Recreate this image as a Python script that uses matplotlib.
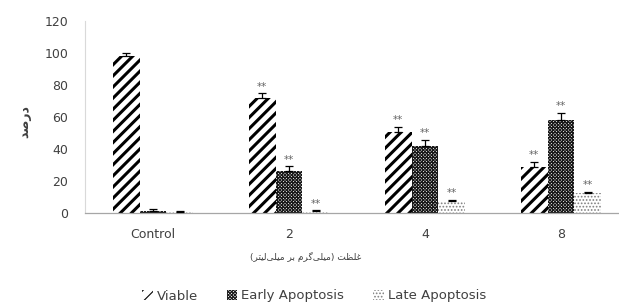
import matplotlib
matplotlib.use('Agg')
import matplotlib.pyplot as plt
import numpy as np

# Data
groups = ['Control', '2', '4', '8']
viable = [98, 72, 50.5, 28.5]
viable_err = [1.5, 2.5, 3.2, 3.5]
early = [1.0, 26, 42, 58]
early_err = [1.5, 3.0, 3.8, 4.5]
late = [0.5, 1.0, 7.5, 12.3]
late_err = [0.5, 0.6, 0.6, 1.0]
stars = [False, True, True, True]

ylabel_fa = 'درصد'
xlabel_fa = 'غلظت (میلی\u200cگرم بر میلی\u200cلیتر)'
legend_labels = ['Viable', 'Early Apoptosis', 'Late Apoptosis']

# Small Persian shaper (presentation forms, visual order) since matplotlib has no bidi
forms = {
    'د': ('\uFEA9', '\uFEAA', None, None),
    'ر': ('\uFEAD', '\uFEAE', None, None),
    'ص': ('\uFEB9', '\uFEBA', '\uFEBB', '\uFEBC'),
    'غ': ('\uFECD', '\uFECE', '\uFECF', '\uFED0'),
    'ل': ('\uFEDD', '\uFEDE', '\uFEDF', '\uFEE0'),
    'ظ': ('\uFEC5', '\uFEC6', '\uFEC7', '\uFEC8'),
    'ت': ('\uFE95', '\uFE96', '\uFE97', '\uFE98'),
    'م': ('\uFEE1', '\uFEE2', '\uFEE3', '\uFEE4'),
    'ی': ('\uFBFC', '\uFBFD', '\uFBFE', '\uFBFF'),
    'گ': ('\uFB92', '\uFB93', '\uFB94', '\uFB95'),
    'ب': ('\uFE8F', '\uFE90', '\uFE91', '\uFE92'),
}


def joins_next(c):
    return c in forms and forms[c][2] is not None


def shape(s):
    out = []
    for i, c in enumerate(s):
        if c not in forms:
            if c != '\u200c':
                out.append(c)
            continue
        prev = s[i - 1] if i > 0 else ''
        nxt = s[i + 1] if i + 1 < len(s) else ''
        p = joins_next(prev)
        n = nxt in forms and joins_next(c)
        iso, fin, ini, med = forms[c]
        if p and n:
            out.append(med)
        elif p:
            out.append(fin)
        elif n:
            out.append(ini)
        else:
            out.append(iso)
    vis = ''.join(out[::-1])
    return vis.translate(str.maketrans('()', ')('))


plt.rcParams['font.family'] = ['DejaVu Sans']
text_col = '#404040'

fig = plt.figure(figsize=(6.19, 3.04), dpi=100)
ax = fig.add_axes([85 / 619, 91 / 304, 534 / 619, 192.5 / 304])

x = np.arange(len(groups))
w = 0.197

series = [
    (viable, viable_err, -w, '///', 'black', 2.2),
    (early, early_err, 0, 'x' * 10, '#1a1a1a', 0.9),
    (late, late_err, w, '.....', '#808080', 0.8),
]
handles = []
for vals, err, off, hatch, hc, hlw in series:
    plt.rcParams['hatch.linewidth'] = hlw
    bars = ax.bar(x + off, vals, w, color='white', edgecolor=hc, hatch=hatch,
                  linewidth=0, zorder=2)
    for b in bars:
        if hasattr(b, 'set_hatch_linewidth'):
            b.set_hatch_linewidth(hlw)
    ax.errorbar(x + off, vals, yerr=[np.zeros(len(vals)), err], fmt='none',
                ecolor='black', elinewidth=0.9, capsize=3, capthick=0.9, zorder=3)
    for i in range(len(vals)):
        if stars[i]:
            ax.text(x[i] + off, vals[i] + err[i] + 1.2, '**', ha='center',
                    va='bottom', fontsize=7.5, color='#666666', zorder=4)
    handles.append(bars)

ax.set_xlim(-0.5, -0.5 + 534 / 136)
ax.set_ylim(0, 120)
ax.set_yticks(range(0, 121, 20))
ax.set_xticks(x)
ax.set_xticklabels(groups)
ax.tick_params(axis='both', length=0, labelsize=9, colors=text_col)
ax.tick_params(axis='y', pad=12)
ax.tick_params(axis='x', pad=11)
ax.spines['top'].set_visible(False)
ax.spines['right'].set_visible(False)
ax.spines['left'].set_color('#d9d9d9')
ax.spines['bottom'].set_color('#a6a6a6')
ax.spines['left'].set_linewidth(0.8)
ax.spines['bottom'].set_linewidth(0.9)

fig.text(25 / 619, 1 - 122 / 304, shape(ylabel_fa), rotation=90, ha='center',
         va='center', fontsize=9, fontweight='bold', color=text_col)
fig.text(306 / 619, 1 - 257 / 304, shape(xlabel_fa), ha='center', va='center',
         fontsize=6.5, color=text_col)

leg = fig.legend(handles, legend_labels, loc='center', ncol=3,
                 bbox_to_anchor=(314 / 619, 1 - 296 / 304), frameon=False,
                 fontsize=9.5, handlelength=0.8, handleheight=0.8,
                 handletextpad=0.3, columnspacing=2.2)
for t in leg.get_texts():
    t.set_color(text_col)

fig.savefig('out.png', dpi=100)
